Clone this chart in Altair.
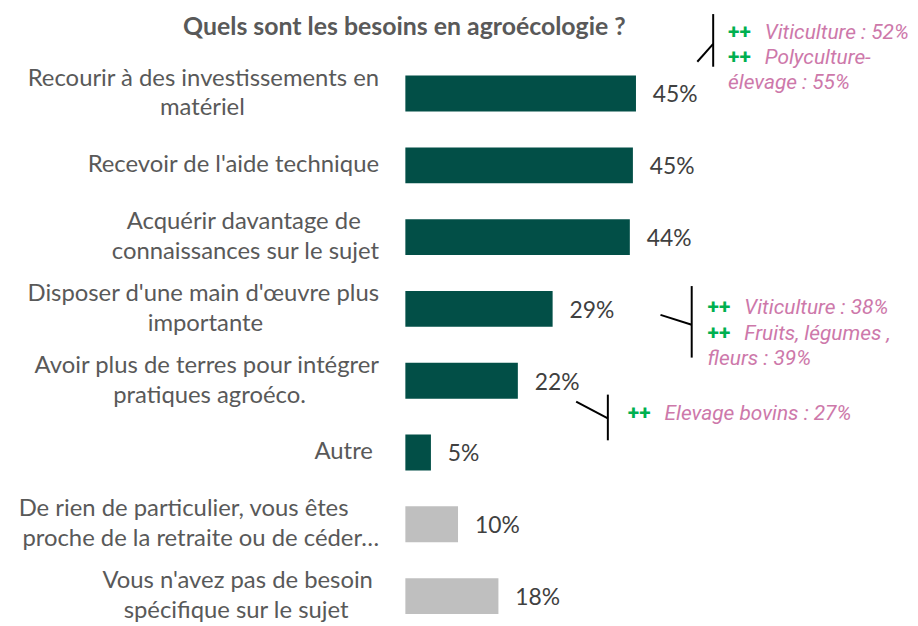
import altair as alt
import pandas as pd

# ---------------- data ----------------
categories = [
    ["Recourir à des investissements en", "matériel"],
    ["Recevoir de l'aide technique"],
    ["Acquérir davantage de", "connaissances sur le sujet"],
    ["Disposer d'une main d'œuvre plus", "importante"],
    ["Avoir plus de terres pour intégrer", "pratiques agroéco."],
    ["Autre"],
    ["De rien de particulier, vous êtes", "proche de la retraite ou de céder…"],
    ["Vous n'avez pas de besoin", "spécifique sur le sujet"],
]
values = [45.1, 44.5, 43.9, 28.8, 22.0, 5.0, 10.3, 18.2]
value_labels = ["45%", "45%", "44%", "29%", "22%", "5%", "10%", "18%"]
bar_groups = ["besoin", "besoin", "besoin", "besoin", "besoin", "besoin", "aucun", "aucun"]

title_text = "Quels sont les besoins en agroécologie ?"

annot_cat_index = [0, 3, 4]
annot_marks = [["++", "++", ""], ["++", "++", ""], ["++"]]
annot_texts = [
    ["Viticulture : 52%", "Polyculture-", "élevage : 55%"],
    ["Viticulture : 38%", "Fruits, légumes ,", "fleurs : 39%"],
    ["Elevage bovins : 27%"],
]

# ---------------- layout ----------------
PLOT_W, PLOT_H = 489, 542
X_MAX = 95
LINE_H = 30
LABEL_PAD = [[0, 22], [0], [3, 0], [0, 19], [0, 12], [1], [5, 0], [1, 5]]  # NBSP padding to centre lines
ANNOT_X = [63.1, 59.1, 43.5]                      # in axis units
ANNOT_DY = [[-55, -30, -5], [5, 31, 56], [40]]    # px from band centre
TEXT_SHIFT = 37
# (x vertical, x diagonal start, dy top, dy bottom, dy diag start, dy diag end)
BRACKETS = [
    (60.2, 57.1, -80, -27, -32, -50),
    (56.0, 49.9, -23, 49, 6, 16),
    (39.6, 33.4, 14, 60, 21, 38),
]

NBSP = "\u00a0"
WJ = "\u2060"
display = ["\n".join(line + (NBSP * p + WJ if p else "") for line, p in zip(lines, pads))
           for lines, pads in zip(categories, LABEL_PAD)]

df = pd.DataFrame({"label": display, "value": values, "text": value_labels, "group": bar_groups})
one = pd.DataFrame({"k": [0]})

y_scale = alt.Scale(domain=display, paddingInner=0.5, paddingOuter=0)
y_enc = alt.Y("label:N", sort=display, scale=y_scale,
              axis=alt.Axis(title=None, domain=False, ticks=False, labelPadding=27,
                            labelFont="Lato", labelFontSize=24, labelColor="#595959",
                            labelLimit=0, labelLineHeight=LINE_H, labelAlign="right",
                            labelBaseline="middle",
                            labelOffset={"condition": {"test": "indexof(datum.value, '\\n') >= 0",
                                                       "value": -LINE_H / 2},
                                         "value": 0},
                            labelExpr="split(datum.label, '\\n')"))
x_enc = alt.X("value:Q", scale=alt.Scale(domain=[0, X_MAX], nice=False), axis=None)

base = alt.Chart(df)
bars = base.mark_bar().encode(
    x=x_enc, y=y_enc,
    color=alt.Color("group:N", scale=alt.Scale(domain=["besoin", "aucun"],
                                               range=["#024f47", "#bfbfbf"]), legend=None),
)
pct = base.mark_text(align="left", baseline="middle", dx=17, dy=2, font="Lato",
                     fontSize=23, color="#404040").encode(
    x="value:Q", y=alt.Y("label:N", sort=display), text="text:N")

title = alt.Chart(one).mark_text(align="center", baseline="alphabetic", font="Lato",
                                 fontSize=25, fontWeight="bold", color="#595959").encode(
    x=alt.value(-1), y=alt.value(-41), text=alt.value(title_text))

layers = [bars, pct, title]

for b, ci in enumerate(annot_cat_index):
    cat = display[ci]
    for j, (mk, tx) in enumerate(zip(annot_marks[b], annot_texts[b])):
        dy = ANNOT_DY[b][j]
        if mk:
            layers.append(alt.Chart(one).mark_text(
                align="left", baseline="alphabetic", dy=dy, font="Roboto", fontSize=21,
                fontWeight="bold", color="#00b050").encode(
                x=alt.datum(ANNOT_X[b]), y=alt.datum(cat), text=alt.value(mk)))
        layers.append(alt.Chart(one).mark_text(
            align="left", baseline="alphabetic", dy=dy, dx=TEXT_SHIFT if mk else 0,
            font="Roboto", fontSize=21, fontStyle="italic", color="#cd78aa").encode(
            x=alt.datum(ANNOT_X[b]), y=alt.datum(cat), text=alt.value(tx)))
    xv, xd, top, bot, d1, d2 = BRACKETS[b]
    layers.append(alt.Chart(one).mark_rule(color="black", strokeWidth=2,
                                           yOffset=top, y2Offset=bot).encode(
        x=alt.datum(xv), y=alt.datum(cat), y2=alt.datum(cat)))
    layers.append(alt.Chart(one).mark_rule(color="black", strokeWidth=2,
                                           yOffset=d1, y2Offset=d2).encode(
        x=alt.datum(xd), x2=alt.datum(xv), y=alt.datum(cat), y2=alt.datum(cat)))

chart = alt.layer(*layers).properties(
    width=PLOT_W, height=PLOT_H,
    autosize=alt.AutoSizeParams(type="none"),
    padding={"left": 400, "top": 66, "right": 19, "bottom": 10},
).configure_view(stroke=None)

chart.save("out.html", embed_options={"renderer": "svg", "actions": False})
